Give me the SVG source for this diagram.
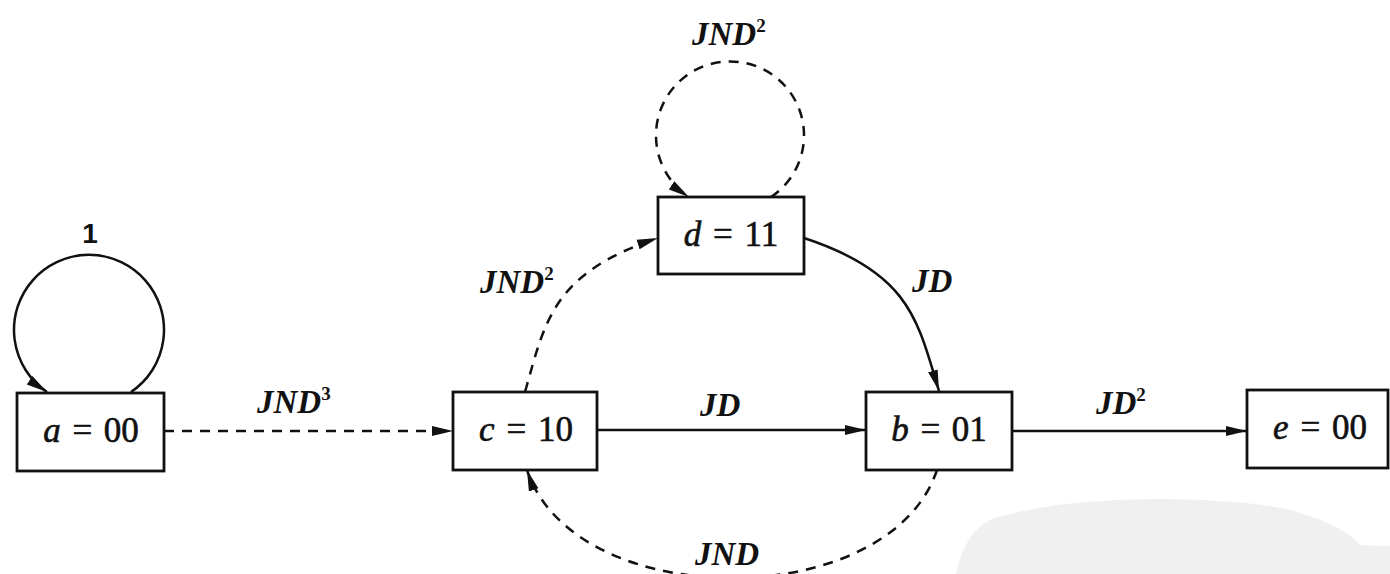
<svg xmlns="http://www.w3.org/2000/svg" width="1390" height="574" viewBox="0 0 1390 574">
<style>
.box{fill:#fff;stroke:#111;stroke-width:2.8}
.nt{font-family:"Liberation Serif",serif;font-size:35px;fill:#111;stroke:#111;stroke-width:0.6;text-anchor:middle;word-spacing:3px}
.it{font-style:italic}
.lb{font-family:"Liberation Serif",serif;font-size:33px;font-style:italic;font-weight:bold;fill:#111}
.sup{font-size:19px;font-style:normal;font-weight:bold}
.e{fill:none;stroke:#111;stroke-width:2.5}
.d{stroke-dasharray:10 8}
</style>
<defs>
<marker id="ah" markerUnits="userSpaceOnUse" markerWidth="22" markerHeight="12" refX="21" refY="5.5" orient="auto">
<path d="M0,0.5 L21,5.5 L0,10.5 Z" fill="#111"/>
</marker>
</defs>
<g id="watermark">
<path d="M956,574 C962,545 975,525 995,518 C1040,505 1090,500 1150,499 C1220,499 1275,504 1300,513 C1330,522 1350,533 1360,545 L1390,546 L1390,574 Z" fill="#f0f0f0"/>
</g>
<g id="connectors">
<path class="e" d="M131,392 A75,75 0 1 0 47,392" marker-end="url(#ah)"/>
<path class="e d" d="M164,431 L453,431" marker-end="url(#ah)"/>
<path class="e" d="M597,430 L866,430" marker-end="url(#ah)"/>
<path class="e" d="M1012,431 L1247,431" marker-end="url(#ah)"/>
<path class="e d" d="M525,392 C545,322 552,273 658,238" marker-end="url(#ah)"/>
<path class="e" d="M804,238 C911,273 918,322 939,391" marker-end="url(#ah)"/>
<path class="e d" d="M771,197 A74,74 0 1 0 689,197" marker-end="url(#ah)"/>
<path class="e d" d="M937,470 C889,614 575,614 527,470" marker-end="url(#ah)"/>
</g>
<g id="node-a">
<rect class="box" x="17" y="393" width="147" height="78"/>
<text class="nt" x="91" y="442"><tspan class="it">a</tspan> = 00</text>
</g>
<g id="node-c">
<rect class="box" x="453" y="392" width="144" height="78"/>
<text class="nt" x="526" y="441"><tspan class="it">c</tspan> = 10</text>
</g>
<g id="node-d">
<rect class="box" x="658" y="197" width="146" height="77"/>
<text class="nt" x="731" y="246"><tspan class="it">d</tspan> = 11</text>
</g>
<g id="node-b">
<rect class="box" x="866" y="392" width="146" height="78"/>
<text class="nt" x="939" y="441"><tspan class="it">b</tspan> = 01</text>
</g>
<g id="node-e">
<rect class="box" x="1247" y="390" width="141" height="78"/>
<text class="nt" x="1320" y="439"><tspan class="it">e</tspan> = 00</text>
</g>
<g id="labels">
<text x="90" y="243" font-family="Liberation Sans,sans-serif" font-size="28" font-weight="bold" fill="#111" text-anchor="middle">1</text>
<text class="lb" x="257" y="413">JND<tspan class="sup" dy="-13">3</tspan></text>
<text class="lb" x="700" y="416">JD</text>
<text class="lb" x="1096" y="414">JD<tspan class="sup" dy="-13">2</tspan></text>
<text class="lb" x="480" y="293">JND<tspan class="sup" dy="-13">2</tspan></text>
<text class="lb" x="912" y="292">JD</text>
<text class="lb" x="692" y="45">JND<tspan class="sup" dy="-13">2</tspan></text>
<text class="lb" x="695" y="565">JND</text>
</g>
</svg>
